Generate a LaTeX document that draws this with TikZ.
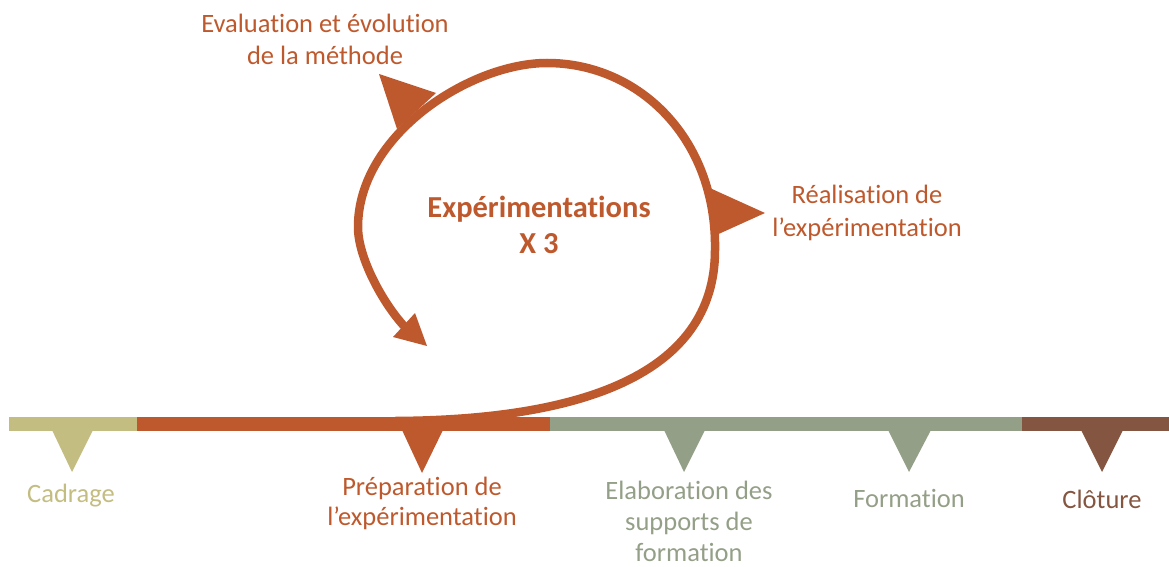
\documentclass[tikz,border=0pt]{standalone}
\usepackage{fontspec}
\setmainfont{Carlito}[Ligatures={NoCommon}]
\definecolor{cOrange}{RGB}{190,89,45}
\definecolor{cKhaki}{RGB}{196,189,129}
\definecolor{cGreen}{RGB}{148,159,135}
\definecolor{cBrown}{RGB}{132,86,65}
\tikzset{
  lbl/.style={anchor=base, align=center, inner sep=0pt, font=\fontsize{26.5}{32}\selectfont},
  boldlbl/.style={anchor=base, align=center, inner sep=0pt, font=\fontsize{30.5}{36}\selectfont\bfseries, text=cOrange},
  loopline/.style={draw=cOrange, line width=8.5pt}
}
\begin{document}
\begin{tikzpicture}[x=1pt,y=-1pt]
\useasboundingbox (0,0) rectangle (1169,567);
% timeline bar
\fill[cKhaki]  (9,417) rectangle (137,431);
\fill[cOrange] (137,417) rectangle (550,431);
\fill[cGreen]  (550,417) rectangle (1022,431);
\fill[cBrown]  (1022,417) rectangle (1169,431);
% markers under the bar
\fill[cKhaki]  (52,430) -- (93,430) -- (72,472) -- cycle;
\fill[cOrange] (402,430) -- (443,430) -- (422,473) -- cycle;
\fill[cGreen]  (664,430) -- (705,430) -- (684,472) -- cycle;
\fill[cGreen]  (888,430) -- (931,430) -- (909,472) -- cycle;
\fill[cBrown]  (1081,430) -- (1123,430) -- (1102,472) -- cycle;
% loop
\coordinate (ls) at (395,421);
\coordinate (lr) at (715,250);
\coordinate (lt) at (547,63);
\coordinate (ll) at (358,227);
\coordinate (le) at (404,326);
\draw[loopline] (ls) .. controls (580,420) and (715,375) .. (lr)
  .. controls (717,140) and (640,63) .. (lt)
  .. controls (470,63) and (358,135) .. (ll)
  .. controls (358,258) and (383,303) .. (le);
\fill[cOrange] (393,337) -- (415,313) -- (427,346) -- cycle;
% loop markers
\fill[cOrange] (379,74) -- (436,93) -- (397,129) -- cycle;
\fill[cOrange] (712,189) -- (712,237) -- (765,213) -- cycle;
% labels (anchor = baseline of the last line)
\node[boldlbl] (exp) at (539,253) {Expérimentations\\X 3};
\node[lbl, text=cOrange] (eval) at (325,65) {Evaluation et évolution\\de la méthode};
\node[lbl, text=cOrange, font=\fontsize{26.5}{33}\selectfont] (real) at (867,236) {Réalisation de\\l’expérimentation};
\node[lbl, text=cOrange, font=\fontsize{26.5}{30.5}\selectfont] (prep) at (422,525.5) {Préparation de\\l’expérimentation};
\node[lbl, text=cKhaki] (cad) at (71,502) {Cadrage};
\node[lbl, text=cGreen, font=\fontsize{26.5}{31}\selectfont] (elab) at (689,561) {Elaboration des\\supports de\\formation};
\node[lbl, text=cGreen] (form) at (909,507) {Formation};
\node[lbl, text=cBrown] (clot) at (1102,508) {Clôture};
\end{tikzpicture}
\end{document}
